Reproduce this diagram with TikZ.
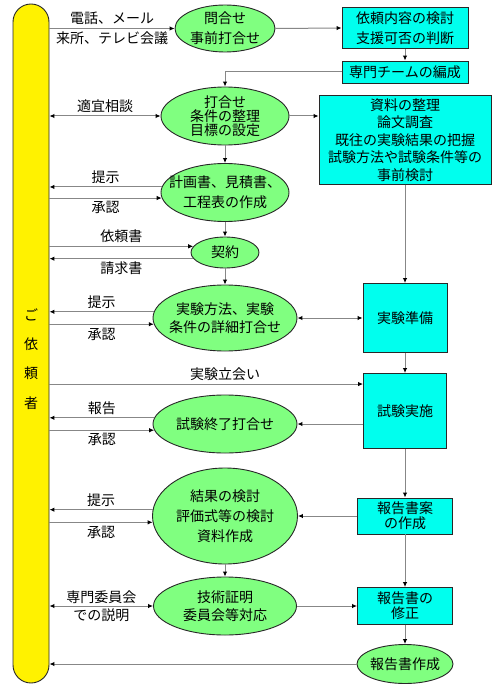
\documentclass[tikz,border=0pt]{standalone}
\usepackage{fontspec}
\setmainfont{Noto Sans CJK JP}
\usetikzlibrary{arrows.meta,shapes.geometric,calc}
\definecolor{barY}{RGB}{255,242,0}
\definecolor{ellG}{RGB}{128,255,128}
\definecolor{boxC}{RGB}{0,255,238}
\definecolor{lineG}{RGB}{135,135,135}
\definecolor{edgeK}{RGB}{40,40,40}
\tikzset{
  tx/.style={font=\fontsize{14pt}{#1pt}\selectfont, align=center, inner sep=0pt},
  ell/.style={ellipse, draw=edgeK, fill=ellG, line width=0.9pt, inner sep=0pt},
  bx/.style={rectangle, draw=edgeK, fill=boxC, line width=0.9pt, inner sep=0pt},
  arr/.style={draw=lineG, line width=1pt, -{Latex[length=5pt,width=4.5pt,black]}},
  darr/.style={draw=lineG, line width=1pt, {Latex[length=5pt,width=4.5pt,black]}-{Latex[length=5pt,width=4.5pt,black]}},
  lbl/.style={font=\fontsize{14pt}{18pt}\selectfont, inner sep=3pt, align=center},
}
\begin{document}
\begin{tikzpicture}[x=1pt,y=-1pt]
\useasboundingbox (0,0) rectangle (500,695);
\fill[white] (0,0) rectangle (500,695);

% client bar
\node[draw=edgeK, fill=barY, line width=0.9pt, rounded corners=18pt, minimum width=36pt, minimum height=679pt, inner sep=0pt] (cl) at (31,343.5) {};
\node[tx=29.3] (clt) at (31,359) {ご\\依\\頼\\者};

% ellipses
\node[ell, minimum width=100pt, minimum height=47pt] (e1) at (225,28.5) {};
\node[tx=20] (e1t) at (e1) {問合せ\\事前打合せ};
\node[ell, minimum width=128pt, minimum height=58pt] (e2) at (225,116) {};
\node[tx=14] (e2t) at (e2) {打合せ\\条件の整理\\目標の設定};
\node[ell, minimum width=128pt, minimum height=58pt] (e3) at (225,192.5) {};
\node[tx=20] (e3t) at (e3) {計画書、見積書、\\工程表の作成};
\node[ell, minimum width=68pt, minimum height=31pt] (k) at (225,252.5) {};
\node[tx=14] (kt) at (k) {契約};
\node[ell, minimum width=144pt, minimum height=66pt] (e5) at (225,318) {};
\node[tx=18] (e5t) at (e5) {実験方法、実験\\条件の詳細打合せ};
\node[ell, minimum width=144pt, minimum height=58pt] (e6) at (225,424) {};
\node[tx=14] (e6t) at (e6) {試験終了打合せ};
\node[ell, minimum width=145pt, minimum height=96pt] (e7) at (225,516) {};
\node[tx=20] (e7t) at (e7) {結果の検討\\評価式等の検討\\資料作成};
\node[ell, minimum width=143pt, minimum height=58pt] (e8) at (225,606) {};
\node[tx=18] (e8t) at (e8) {技術証明\\委員会等対応};
\node[ell, minimum width=96pt, minimum height=39pt] (e9) at (405,664) {};
\node[tx=14] (e9t) at (e9) {報告書作成};

% boxes
\node[bx, tx=20, minimum width=126pt, minimum height=41pt] (A) at (405,28) {依頼内容の検討\\支援可否の判断};
\node[bx, tx=14, minimum width=126pt, minimum height=22pt] (B) at (405,72) {専門チームの編成};
\node[bx, tx=17.5, minimum width=172pt, minimum height=89pt] (C) at (405,140) {資料の整理\\論文調査\\既往の実験結果の把握\\試験方法や試験条件等の\\事前検討};
\node[bx, tx=14, minimum width=84pt, minimum height=69pt] (D) at (405,318) {実験準備};
\node[bx, tx=14, minimum width=83pt, minimum height=75pt] (E) at (405,411) {試験実施};
\node[bx, tx=15, minimum width=95pt, minimum height=36pt] (F) at (405,516) {報告書案\\の作成};
\node[bx, tx=15, minimum width=95pt, minimum height=37pt] (G) at (405,606) {報告書の\\修正};

% connectors
\draw[arr] (cl.east |- e1.west) -- node[lbl,above] (l1) {電話、メール} node[lbl,below] (l2) {来所、テレビ会議} (e1.west);
\draw[arr] (e1.east) -- (A.west);
\draw[arr] (A.south) -- (B.north);
\draw[arr] (B.west) -| (e2.north);
\draw[arr] (e2.east) -- (e2.east -| C.west);
\draw[darr] (cl.east |- e2.west) -- node[lbl,above] (l3) {適宜相談} (e2.west);
\draw[arr] (e2.south) -- (e3.north);
\draw[arr] (e3.175) -- node[lbl,above] (l4) {提示} (cl.east |- e3.175);
\draw[arr] (cl.east |- e3.185) -- node[lbl,below] (l5) {承認} (e3.185);
\draw[arr] (e3.south) -- (k.north);
\draw[arr] (cl.east |- k.169) -- node[lbl,above] (l6) {依頼書} (k.169);
\draw[arr] (k.191) -- node[lbl,below] (l7) {請求書} (cl.east |- k.191);
\draw[arr] (k.south) -- (e5.north);
\draw[arr] (e5.175) -- node[lbl,above] (l8) {提示} (cl.east |- e5.175);
\draw[arr] (cl.east |- e5.185) -- node[lbl,below] (l9) {承認} (e5.185);
\draw[darr] (e5.east) -- (D.west);
\draw[arr] (C.south) -- (D.north);
\draw[arr] (D.south) -- (E.north);
\coordinate (E1) at ($(E.north west)+(0,11)$);
\draw[arr] (cl.east |- E1) -- node[lbl,above,pos=0.56] (l10) {実験立会い} (E1);
\draw[arr] (e6.east -| E.west) -- (e6.east);
\draw[arr] (e6.175) -- node[lbl,above] (l11) {報告} (cl.east |- e6.175);
\draw[arr] (cl.east |- e6.185) -- node[lbl,below] (l12) {承認} (e6.185);
\draw[arr] (E.south) -- (F.north);
\draw[arr] (F.west) -- (e7.east);
\draw[arr] (e7.175) -- node[lbl,above] (l13) {提示} (cl.east |- e7.175);
\draw[arr] (cl.east |- e7.185) -- node[lbl,below] (l14) {承認} (e7.185);
\draw[arr] (e7.south) -- (e8.north);
\draw[arr] (F.south) -- (G.north);
\draw[arr] (e8.east) -- (G.west);
\draw[darr] (cl.east |- e8.west) -- node[lbl] (l15) {専門委員会\\での説明} (e8.west);
\draw[arr] (G.south) -- (e9.north);
\draw[arr] (e9.west) -- (cl.east |- e9.west);
\end{tikzpicture}
\end{document}
